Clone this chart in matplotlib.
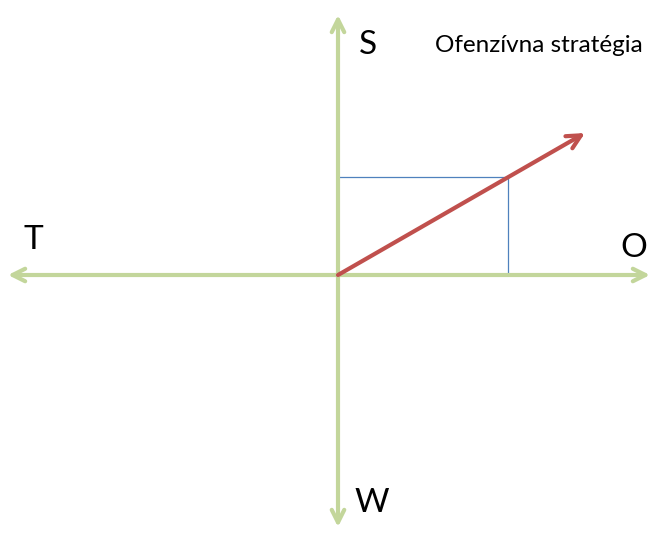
import matplotlib
matplotlib.use("Agg")
import matplotlib.pyplot as plt

# Axis labels (SWOT) and their positions in chart units (origin = centre)
axis_labels = ["S", "W", "O", "T"]
label_x = [30, 34, 296, -305]
label_y = [230, -228, 27, 35]

# Axis extents
x_axis = [-330, 312]
y_axis = [-252, 260]

# Strategy vector and its projection point
vector_end = [247, 142]
point = [170, 98]

title_text = "Ofenzívna stratégia"

green = "#c3d69b"
red = "#c0504d"
blue = "#4f81bd"

fig = plt.figure(figsize=(6.55, 5.35), dpi=100)
ax = fig.add_axes([0, 0, 1, 1])
ax.set_xlim(-338, 317)
ax.set_ylim(-260, 275)
ax.axis("off")

font = "Lato"

def arrow(x0, y0, x1, y1, color, lw, hl, hw):
    ax.annotate("", xy=(x1, y1), xytext=(x0, y0),
                arrowprops=dict(arrowstyle=f"->,head_length={hl},head_width={hw}",
                                color=color, lw=lw, shrinkA=0, shrinkB=0,
                                capstyle="round", joinstyle="round"))

# green axes (double-headed)
arrow(0, 0, x_axis[1], 0, green, 3.0, 0.9, 0.45)
arrow(0, 0, x_axis[0], 0, green, 3.0, 0.9, 0.45)
arrow(0, 0, 0, y_axis[1], green, 3.0, 0.9, 0.45)
arrow(0, 0, 0, y_axis[0], green, 3.0, 0.9, 0.45)

# blue projection lines
ax.plot([0, point[0], point[0]], [point[1], point[1], 0], color=blue, lw=0.9)

# red strategy vector
arrow(0, 0, vector_end[0], vector_end[1], red, 3.0, 1.0, 0.5)

for t, x, y in zip(axis_labels, label_x, label_y):
    ax.text(x, y, t, fontsize=24, family=font, ha="center", va="center", color="black")

ax.text(201, 230, title_text, fontsize=17.5, family=font, ha="center", va="center", color="black")

fig.savefig("out.png", dpi=100)
